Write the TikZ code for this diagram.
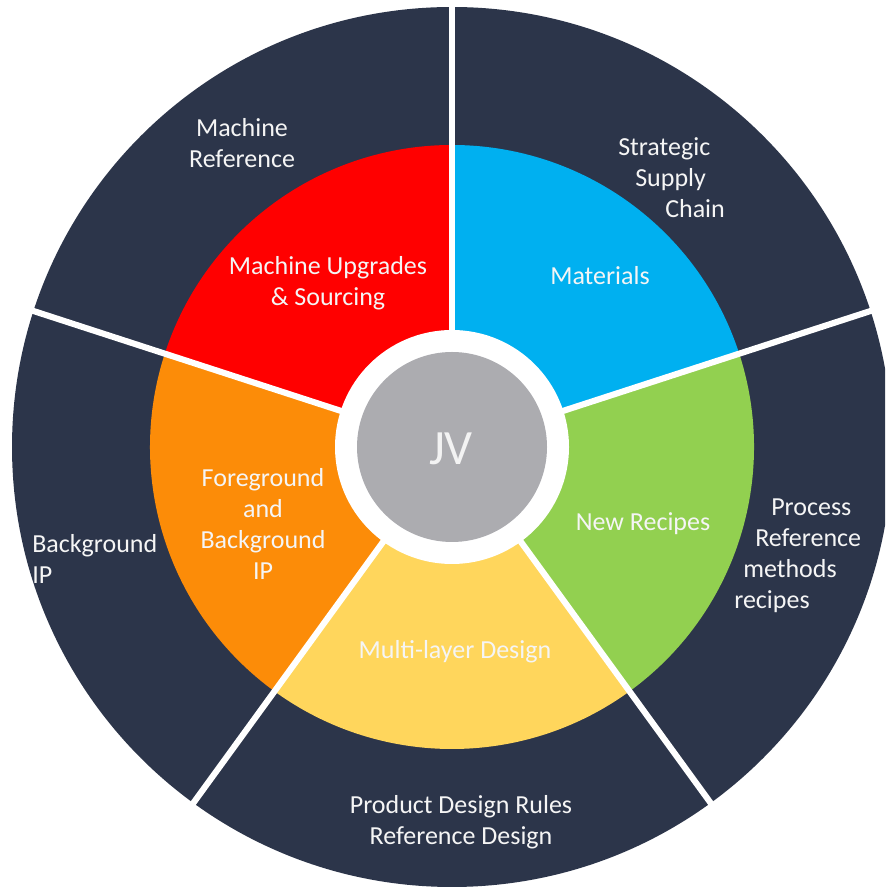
\documentclass[tikz,border=0pt]{standalone}
\usepackage{fontspec}
\setmainfont{Carlito}
\usetikzlibrary{positioning}
\definecolor{ringfill}{RGB}{44,53,74}
\definecolor{machinefill}{RGB}{255,0,0}
\definecolor{materialfill}{RGB}{0,176,240}
\definecolor{recipefill}{RGB}{146,208,80}
\definecolor{designfill}{RGB}{255,214,92}
\definecolor{ipfill}{RGB}{252,140,8}
\definecolor{hubfill}{RGB}{172,172,176}
\definecolor{labeltext}{RGB}{245,245,245}
\tikzset{
    sectorlabel/.style={
        text=labeltext, inner sep=0pt, align=center,
        font=\fontsize{19.5}{23.25}\selectfont
    },
    ringlabel/.style={sectorlabel},
    leftlabel/.style={sectorlabel, align=left, anchor=west},
    divider/.style={draw=white, line width=4.6pt},
    hublabel/.style={text=white!85!hubfill, inner sep=0pt, font=\fontsize{37}{44}\selectfont}
}

\begin{document}
\begin{tikzpicture}[x=0.75pt, y=0.75pt]

\clip (0,0) rectangle (885,888);

% Centre of the wheel
\coordinate (hub) at (452,441);

% Outer ring
\fill[ringfill] (hub) circle (440);

% Inner sectors
\fill[materialfill] (hub) -- ++(18:302) arc[start angle=18, end angle=90, radius=302] -- cycle;
\fill[recipefill] (hub) -- ++(-54:302) arc[start angle=-54, end angle=18, radius=302] -- cycle;
\fill[designfill] (hub) -- ++(-126:302) arc[start angle=-126, end angle=-54, radius=302] -- cycle;
\fill[ipfill] (hub) -- ++(162:302) arc[start angle=162, end angle=234, radius=302] -- cycle;
\fill[machinefill] (hub) -- ++(90:302) arc[start angle=90, end angle=162, radius=302] -- cycle;

% Dividers
\draw[divider] (hub) -- ++(90:450);
\draw[divider] (hub) -- ++(18:450);
\draw[divider] (hub) -- ++(-54:450);
\draw[divider] (hub) -- ++(-126:450);
\draw[divider] (hub) -- ++(162:450);

% Hub
\fill[white] (hub) circle (117);
\fill[hubfill] (hub) circle (95);
\node[hublabel] (jv) at (451,439) {JV};

% Inner sector labels
\node[sectorlabel] (upgrades) at (328,605) {Machine Upgrades\\\& Sourcing};
\node[sectorlabel] (materials) at (600,612) {Materials};
\node[sectorlabel] (recipes) at (643,364) {New Recipes};
\node[sectorlabel] (multilayer) at (455,236) {Multi-layer Design};
\node[sectorlabel] (foreground) at (263,364) {Foreground\\and\\Background\\IP};

% Outer ring labels
\node[ringlabel] (machineref) at (242,745) {Machine\\Reference};
\node[leftlabel] (supply) at (618,710) {Strategic\\\hspace*{12.75pt}Supply\\\hspace*{35.25pt}Chain};
\node[leftlabel] (process) at (734,332) {\hspace*{27.75pt}Process\\\hspace*{15.75pt}Reference\\\hspace*{6.75pt}methods\\recipes};
\node[ringlabel] (rules) at (461,66) {Product Design Rules\\Reference Design};
\node[leftlabel] (background) at (32,329) {Background\\IP};

\end{tikzpicture}
\end{document}
